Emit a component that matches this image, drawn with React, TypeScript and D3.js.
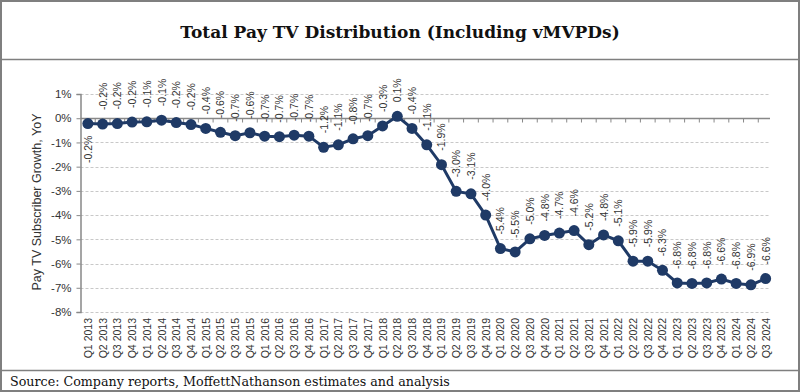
import React, { useRef, useEffect } from 'react';
import * as d3 from 'd3';

// quarters Q1 2013 .. Q3 2024
const quarters: string[] = [];
const years = [2013, 2014, 2015, 2016, 2017, 2018, 2019, 2020, 2021, 2022, 2023, 2024];
years.forEach(y => ['Q1', 'Q2', 'Q3', 'Q4'].forEach(q => quarters.push(`${q} ${y}`)));
quarters.pop(); // no Q4 2024

// YoY subscriber growth, % (as labelled)
const growth = [
  -0.2, -0.2, -0.2, -0.2,
  -0.1, -0.1, -0.2, -0.2,
  -0.4, -0.6, -0.7, -0.6,
  -0.7, -0.7, -0.7, -0.7,
  -1.2, -1.1, -0.8, -0.7,
  -0.3, 0.1, -0.4, -1.1,
  -1.9, -3.0, -3.1, -4.0,
  -5.4, -5.5, -5.0, -4.8,
  -4.7, -4.6, -5.2, -4.8,
  -5.1, -5.9, -5.9, -6.3,
  -6.8, -6.8, -6.8, -6.6,
  -6.8, -6.9, -6.6,
];
const plotted = [
  -0.22, -0.24, -0.22, -0.16,
  -0.15, -0.08, -0.18, -0.26,
  -0.42, -0.58, -0.72, -0.6,
  -0.74, -0.76, -0.7, -0.74,
  -1.2, -1.1, -0.85, -0.72,
  -0.32, 0.08, -0.42, -1.1,
  -1.92, -3.02, -3.12, -4.0,
  -5.38, -5.52, -4.98, -4.84,
  -4.74, -4.64, -5.22, -4.82,
  -5.06, -5.9, -5.9, -6.28,
  -6.8, -6.82, -6.8, -6.64,
  -6.82, -6.88, -6.62,
];
const yTicks = [1, 0, -1, -2, -3, -4, -5, -6, -7, -8];

const W = 800;
const H = 392;
const navy = '#1f3a66';

const Chart = () => {
  const svgRef = useRef<SVGSVGElement>(null);

  useEffect(() => {
    const svg = d3.select(svgRef.current);
    svg.selectAll('*').remove();

    const left = 80.5;
    const right = 773;
    const top = 94;
    const bottom = 312;

    const x = d3.scaleBand<string>().domain(quarters).range([left, right]);
    const y = d3.scaleLinear().domain([-8, 1]).range([bottom, top]);
    const cx = (i: number) => (x(quarters[i]) as number) + x.bandwidth() / 2;

    // frame
    svg.append('rect').attr('x', 1).attr('y', 1).attr('width', W - 2).attr('height', H - 2)
      .attr('fill', '#fff').attr('stroke', '#7f7f7f').attr('stroke-width', 2);
    svg.append('line').attr('x1', 0).attr('x2', W).attr('y1', 59.5).attr('y2', 59.5)
      .attr('stroke', '#7f7f7f').attr('stroke-width', 1.5);
    svg.append('line').attr('x1', 0).attr('x2', W).attr('y1', 370.5).attr('y2', 370.5)
      .attr('stroke', '#7f7f7f').attr('stroke-width', 1.5);

    svg.append('text').attr('x', 400).attr('y', 38).attr('text-anchor', 'middle')
      .style('font-family', '"DejaVu Serif", serif').style('font-weight', 'bold')
      .style('font-size', '17px').attr('fill', '#111')
      .text('Total Pay TV Distribution (Including vMVPDs)');

    svg.append('text').attr('x', 10).attr('y', 386)
      .style('font-family', '"DejaVu Serif", serif').style('font-size', '12.7px').attr('fill', '#111')
      .text('Source: Company reports, MoffettNathanson estimates and analysis');

    const g = svg.append('g').style('font-family', '"Liberation Sans", Arial, sans-serif');

    // gridlines
    g.selectAll('.grid').data(yTicks.filter(t => t !== 0)).enter().append('line')
      .attr('x1', left).attr('x2', right - 3)
      .attr('y1', d => Math.round(y(d)) + 0.5).attr('y2', d => Math.round(y(d)) + 0.5)
      .attr('stroke', '#c8c8c8').attr('stroke-dasharray', '3,2');

    // y axis
    const ya = g.append('g').attr('transform', `translate(${left},0)`)
      .call(d3.axisLeft(y).tickValues(yTicks).tickSize(4).tickFormat(d => `${d}%`));
    ya.select('.domain').attr('stroke', '#888').attr('stroke-width', 1.5);
    ya.selectAll('.tick line').attr('stroke', '#888');
    ya.selectAll('.tick text').attr('x', -9).attr('fill', '#333').style('font-size', '11.5px');

    // zero line with category ticks
    const y0 = Math.round(y(0)) + 0.5;
    g.append('line').attr('x1', left).attr('x2', right - 3).attr('y1', y0).attr('y2', y0)
      .attr('stroke', '#888').attr('stroke-width', 1.5);
    g.selectAll('.xt').data(quarters.slice(1)).enter().append('line')
      .attr('x1', d => x(d) as number).attr('x2', d => x(d) as number)
      .attr('y1', y0).attr('y2', y0 + 4).attr('stroke', '#888');

    // x labels
    g.selectAll('.xl').data(quarters).enter().append('text')
      .attr('transform', (d, i) => `translate(${cx(i) + 4},318) rotate(-90)`)
      .attr('text-anchor', 'end').attr('fill', '#333').style('font-size', '10.5px')
      .text(d => d);

    // y title
    g.append('text').attr('transform', 'translate(41,202) rotate(-90)').attr('text-anchor', 'middle')
      .attr('fill', '#333').style('font-size', '12.5px').text('Pay TV Subscriber Growth, YoY');

    // line + markers
    const line = d3.line<number>().x((d, i) => cx(i)).y(d => y(d));
    g.append('path').datum(plotted).attr('d', line).attr('fill', 'none')
      .attr('stroke', navy).attr('stroke-width', 3);
    g.selectAll('.pt').data(plotted).enter().append('circle')
      .attr('cx', (d, i) => cx(i)).attr('cy', d => y(d)).attr('r', 5.5).attr('fill', navy);

    // data labels
    g.selectAll('.dl').data(growth).enter().append('text')
      .attr('transform', (d, i) => i === 0
        ? `translate(${cx(i) + 4},${y(plotted[i]) + 12}) rotate(-90)`
        : `translate(${cx(i) + 4},${y(plotted[i]) - 14}) rotate(-90)`)
      .attr('text-anchor', (d, i) => i === 0 ? 'end' : 'start')
      .attr('fill', '#333').style('font-size', '10.5px')
      .text(d => `${d.toFixed(1)}%`);
  }, []);

  return <svg ref={svgRef} width={W} height={H} style={{ display: 'block' }} />;
};

export default function App() {
  return (
    <div style={{ position: 'absolute', left: 0, top: 0 }}>
      <Chart />
    </div>
  );
}
